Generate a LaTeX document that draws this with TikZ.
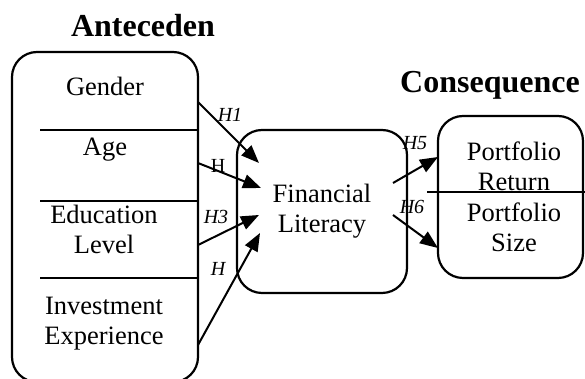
\documentclass[tikz,border=0pt]{standalone}
\usepackage{fontspec}
\setmainfont{Liberation Serif}
\usetikzlibrary{arrows.meta}

\begin{document}
\begin{tikzpicture}[
    x=0.5pt, y=-0.5pt,
    every node/.style={font=\fontsize{13.25}{15}\selectfont, align=center, inner sep=0pt},
    box/.style={draw, line width=1.1pt, rounded corners=12.5pt},
    trenn/.style={line width=0.8pt},
    pfeil/.style={line width=1pt, -{Triangle[length=9pt,width=7pt]}},
    hyp/.style={font=\fontsize{10}{12}\selectfont\itshape},
    titel/.style={font=\fontsize{16}{18}\selectfont\bfseries}]
    \useasboundingbox (0,0) rectangle (585,379);

    % Titel
    \node[titel] (antetitel) at (143, 26) {Anteceden};
    \node[titel] (konstitel) at (490, 85) {Consequence};

    % Kaesten
    \node[box, minimum width=93pt, minimum height=165pt] (ante) at (105, 217) {};
    \node[box, minimum width=85pt, minimum height=81.5pt] (finlit) at (322, 211.5) {Financial\\Literacy};
    \node[box, minimum width=72.5pt, minimum height=81pt] (kons) at (510.5, 197) {};

    % Variablen
    \node (gender) at (105, 86) {Gender};
    \node (age) at (105, 150) {Age};
    \node (edu) at (104, 229) {Education\\Level};
    \node (invest) at (104, 324) {Investment\\Experience};
    \node (ret) at (514, 166) {Portfolio\\Return};
    \node (size) at (514, 227) {Portfolio\\Size};

    % Trennlinien
    \draw[trenn] (40, 130) -- (198, 130);
    \draw[trenn] (40, 201) -- (198, 201);
    \draw[trenn] (40, 278) -- (198, 278);
    \draw[trenn] (427, 192) -- (585, 192);

    % Hypothesen
    \coordinate (h1a) at (198, 102);
    \coordinate (h1b) at (259, 163);
    \coordinate (h2a) at (198, 163);
    \coordinate (h2b) at (261, 188);
    \coordinate (h3a) at (198, 245);
    \coordinate (h3b) at (259, 215);
    \coordinate (h4a) at (198, 345);
    \coordinate (h4b) at (260, 233);
    \coordinate (h5a) at (393, 183);
    \coordinate (h5b) at (438, 157);
    \coordinate (h6a) at (393, 215);
    \coordinate (h6b) at (438, 248);

    \draw[pfeil] (h1a) -- (h1b);
    \draw[pfeil] (h2a) -- (h2b);
    \draw[pfeil] (h3a) -- (h3b);
    \draw[pfeil] (h4a) -- (h4b);
    \draw[pfeil] (h5a) -- (h5b);
    \draw[pfeil] (h6a) -- (h6b);

    \node[hyp] (l1) at (230, 115) {H1};
    \node[hyp, font=\fontsize{10}{12}\selectfont\upshape] (l2) at (218, 166) {H};
    \node[hyp] (l3) at (216, 217) {H3};
    \node[hyp] (l4) at (218, 269) {H};
    \node[hyp] (l5) at (415, 143) {H5};
    \node[hyp] (l6) at (412, 207) {H6};
\end{tikzpicture}
\end{document}
